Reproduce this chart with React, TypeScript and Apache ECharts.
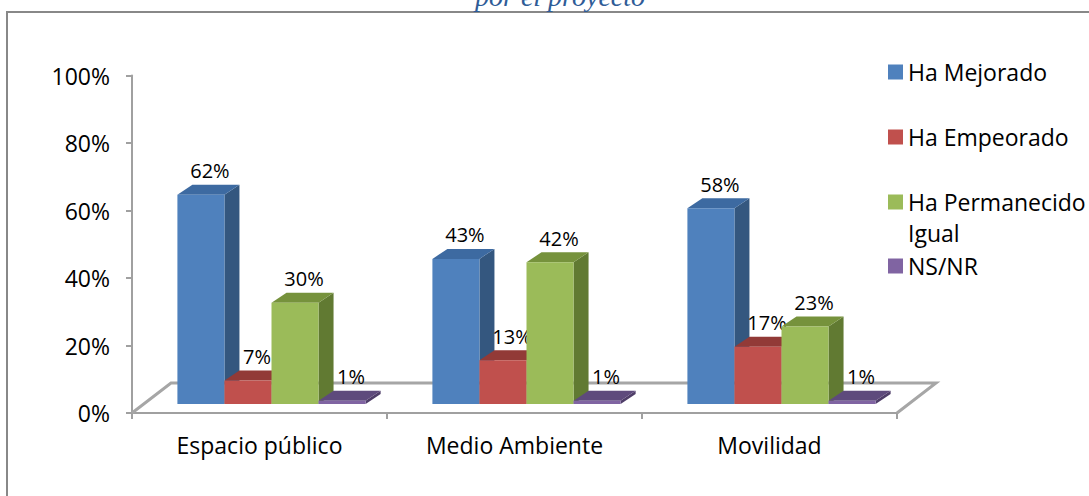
import React, { useEffect, useRef } from "react";
import * as echarts from "echarts";

const categories = ["Espacio público", "Medio Ambiente", "Movilidad"];
const seriesNames = ["Ha Mejorado", "Ha Empeorado", "Ha Permanecido Igual", "NS/NR"];
const mejorado = [62, 43, 58];
const empeorado = [7, 13, 17];
const permanecido = [30, 42, 23];
const nsnr = [1, 1, 1];
const yTicks = [0, 20, 40, 60, 80, 100];
const titleText = "por el proyecto";

const FONT = "'Open Sans', sans-serif";
const faceColors = [
  { front: "#4F81BD", top: "#3D6AA1", side: "#34577F" },
  { front: "#C0504D", top: "#923A37", side: "#8A3633" },
  { front: "#9BBB59", top: "#76923C", side: "#617A32" },
  { front: "#8064A2", top: "#5E4A7C", side: "#4E3D68" },
];
// 3D projection offsets (pixels)
const FRONT_DX = 12;
const FRONT_DY = -9;
const DEPTH_DX = 15;
const DEPTH_DY = -10;
const FLOOR_DX = 39;
const FLOOR_DY = -30;
const BAR_FRAC = 0.1845;

export default function App() {
  const ref = useRef<HTMLDivElement>(null);
  useEffect(() => {
    if (!ref.current) return;
    const chart = echarts.init(ref.current, null, { renderer: "svg" });
    const allValues = [mejorado, empeorado, permanecido, nsnr];

    const barSeries = allValues.map((vals, s) => ({
      type: "custom",
      name: seriesNames[s],
      itemStyle: { color: faceColors[s].front },
      encode: { x: 0, y: 1 },
      data: vals.map((v, i) => [i, v]),
      z: 3,
      renderItem: (params: any, api: any) => {
        const ci = api.value(0);
        const v = api.value(1);
        const base = api.coord([ci, 0]);
        const top = api.coord([ci, v]);
        const band = api.size([1, 0])[0];
        const barW = band * BAR_FRAC;
        const groupW = barW * 4;
        const x0 = base[0] + FRONT_DX - groupW / 2 + s * barW;
        const x1 = x0 + barW;
        const yb = base[1] + FRONT_DY;
        const yt = top[1] + FRONT_DY;
        const c = faceColors[s];
        return {
          type: "group",
          children: [
            {
              type: "polygon",
              shape: {
                points: [
                  [x1, yt],
                  [x1 + DEPTH_DX, yt + DEPTH_DY],
                  [x1 + DEPTH_DX, yb + DEPTH_DY],
                  [x1, yb],
                ],
              },
              style: { fill: c.side },
            },
            {
              type: "polygon",
              shape: {
                points: [
                  [x0, yt],
                  [x0 + DEPTH_DX, yt + DEPTH_DY],
                  [x1 + DEPTH_DX, yt + DEPTH_DY],
                  [x1, yt],
                ],
              },
              style: { fill: c.top },
            },
            {
              type: "rect",
              shape: { x: x0, y: yt, width: barW, height: yb - yt },
              style: { fill: c.front },
            },
            {
              type: "text",
              x: x0 + barW / 2 + 9,
              y: yt + DEPTH_DY - 14,
              style: {
                text: v + "%",
                fontFamily: FONT,
                fontSize: 20,
                fill: "#000",
                align: "center",
                verticalAlign: "middle",
              },
            },
          ],
        };
      },
    }));

    const floorSeries = {
      type: "custom",
      name: "floor",
      silent: true,
      z: 1,
      encode: { x: 0, y: 1 },
      data: [[0, 0]],
      renderItem: (params: any, api: any) => {
        const first = api.coord([0, 0]);
        const last = api.coord([categories.length - 1, 0]);
        const band = api.size([1, 0])[0];
        const left = first[0] - band / 2;
        const right = last[0] + band / 2;
        const y0 = first[1];
        return {
          type: "polyline",
          shape: {
            points: [
              [left, y0],
              [left + FLOOR_DX, y0 + FLOOR_DY],
              [right + FLOOR_DX, y0 + FLOOR_DY],
              [right, y0],
            ],
          },
          style: { stroke: "#A6A6A6", lineWidth: 3, fill: null },
        };
      },
    };

    const legendTops = [51.5, 116.5, 150.5, 245.5];
    const legends = seriesNames.map((n, i) => ({
      data: [n],
      left: 883,
      top: legendTops[i],
      orient: "vertical",
      icon: "rect",
      itemWidth: 15,
      itemHeight: 15,
      selectedMode: false,
      formatter: (name: string) =>
        name === "Ha Permanecido Igual" ? "\nHa Permanecido\nIgual" : name,
      textStyle: {
        fontFamily: FONT,
        fontSize: 23,
        color: "#000",
        lineHeight: 31,
      },
    }));

    chart.setOption({
      animation: false,
      title: {
        text: titleText,
        left: 470,
        top: -23,
        textStyle: {
          fontFamily: "'Liberation Serif', serif",
          fontStyle: "italic",
          fontWeight: "normal",
          fontSize: 28,
          color: "#2F5C97",
        },
      },
      graphic: [
        {
          type: "rect",
          shape: { x: 7, y: 12, width: 1200, height: 600 },
          style: { fill: null, stroke: "#888888", lineWidth: 2 },
          z: 0,
          silent: true,
        },
      ],
      legend: legends,
      grid: { left: 132, right: 192, top: 75.5, bottom: 83 },
      xAxis: {
        type: "category",
        data: categories,
        boundaryGap: true,
        axisLine: { show: true, lineStyle: { color: "#A0A0A0", width: 2 } },
        axisTick: { show: true, length: 6, alignWithLabel: false, lineStyle: { color: "#A0A0A0", width: 2 } },
        axisLabel: { fontFamily: FONT, fontSize: 23, color: "#000", margin: 20 },
      },
      yAxis: {
        type: "value",
        min: yTicks[0],
        max: yTicks[yTicks.length - 1],
        interval: 20,
        axisLine: { show: true, lineStyle: { color: "#A0A0A0", width: 2 } },
        axisTick: { show: true, length: 6, lineStyle: { color: "#A0A0A0", width: 2 } },
        splitLine: { show: false },
        axisLabel: { fontFamily: FONT, fontSize: 23, color: "#000", margin: 22, formatter: "{value}%" },
      },
      series: [floorSeries, ...barSeries],
    });
    return () => chart.dispose();
  }, []);
  return (
    <div
      ref={ref}
      style={{ position: "absolute", left: 0, top: 0, width: 1089, height: 496, background: "#fff" }}
    />
  );
}
